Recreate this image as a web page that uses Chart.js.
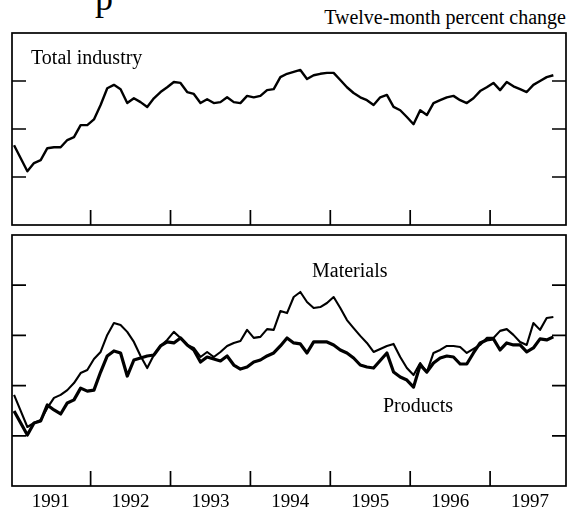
<!DOCTYPE html>
<html>
<head>
<meta charset="utf-8">
<script src="https://cdn.jsdelivr.net/npm/chart.js@4"></script>
<style>
  body { margin: 0; background: #fff; }
  #page { position: relative; width: 568px; height: 516px; overflow: hidden;
          font-family: "Liberation Serif", "Times New Roman", serif; color: #000; }
  canvas { position: absolute; left: 0; }
  .lbl { position: absolute; white-space: nowrap; line-height: 1; font-size: 20px; }
</style>
</head>
<body>
<div id="page">
  <div class="lbl" style="left:95px;top:-20px;font-size:36px">p</div>
  <div class="lbl" style="right:2px;top:7px">Twelve-month percent change</div>
  <canvas id="topChart" width="568" height="230" style="top:0"></canvas>
  <canvas id="bottomChart" width="568" height="286" style="top:230px"></canvas>
  <div class="lbl" style="left:31px;top:47px">Total industry</div>
  <div class="lbl" style="left:312px;top:260px">Materials</div>
  <div class="lbl" style="left:383px;top:395px">Products</div>
</div>
<script>
// monthly twelve-month changes, Jan 1991 - Oct 1997
var years = ["1991", "1992", "1993", "1994", "1995", "1996", "1997"];
var yearBreaks = [1992, 1993, 1994, 1995, 1996, 1997];
var months = Array.from({length: 82}, (_, i) => 1991 + (i + 0.5) / 12);

var totalIndustry = [
  3.32, 2.78, 2.24, 2.58, 2.70, 3.20, 3.24, 3.24, 3.54, 3.66,
  4.16, 4.16, 4.40, 5.00, 5.70, 5.84, 5.66, 5.08, 5.28, 5.12,
  4.92, 5.28, 5.54, 5.74, 5.96, 5.92, 5.54, 5.46, 5.08, 5.24,
  5.08, 5.12, 5.32, 5.12, 5.08, 5.38, 5.32, 5.38, 5.62, 5.66,
  6.16, 6.30, 6.38, 6.46, 6.08, 6.24, 6.30, 6.34, 6.34, 6.04,
  5.74, 5.50, 5.32, 5.20, 5.00, 5.32, 5.42, 4.92, 4.78, 4.50,
  4.20, 4.78, 4.58, 5.08, 5.20, 5.32, 5.38, 5.20, 5.08, 5.28,
  5.58, 5.74, 5.92, 5.62, 5.96, 5.78, 5.66, 5.54, 5.84, 6.00,
  6.16, 6.24
];
var materials = [
  1.63, 0.99, 0.35, 0.51, 0.63, 1.11, 1.51, 1.63, 1.82, 2.10,
  2.50, 2.62, 3.06, 3.34, 4.02, 4.49, 4.41, 4.14, 3.74, 3.18,
  2.70, 3.22, 3.58, 3.82, 4.14, 3.90, 3.62, 3.50, 3.14, 3.34,
  3.14, 3.34, 3.58, 3.70, 3.78, 4.22, 3.90, 3.94, 4.25, 4.22,
  4.97, 4.89, 5.53, 5.73, 5.33, 5.09, 5.13, 5.29, 5.53, 5.09,
  4.61, 4.29, 3.98, 3.70, 3.34, 3.46, 3.58, 3.66, 3.14, 2.70,
  2.42, 2.90, 2.54, 3.30, 3.42, 3.58, 3.58, 3.54, 3.30, 3.46,
  3.62, 3.90, 3.90, 4.18, 4.25, 4.02, 3.74, 3.62, 4.49, 4.22,
  4.69, 4.73
];
var products = [
  0.99, 0.51, 0.03, 0.51, 0.59, 1.23, 1.03, 0.87, 1.31, 1.43,
  1.90, 1.78, 1.82, 2.54, 3.18, 3.38, 3.30, 2.38, 3.02, 3.10,
  3.18, 3.22, 3.58, 3.74, 3.70, 3.90, 3.62, 3.42, 2.94, 3.14,
  3.06, 2.98, 3.18, 2.82, 2.66, 2.74, 2.94, 3.02, 3.18, 3.30,
  3.58, 3.90, 3.70, 3.66, 3.30, 3.74, 3.74, 3.74, 3.62, 3.42,
  3.30, 3.10, 2.82, 2.74, 2.70, 3.00, 3.30, 2.54, 2.34, 2.22,
  1.94, 2.82, 2.54, 2.90, 3.10, 3.18, 3.14, 2.86, 2.86, 3.30,
  3.70, 3.82, 3.86, 3.42, 3.70, 3.62, 3.62, 3.34, 3.50, 3.86,
  3.82, 3.94
];

var topTicks = [2, 4, 6];
var bottomTicks = [0, 2, 4, 6];

// box round the plot + short inward tick marks
const frame = {
  id: "frame",
  afterDatasetsDraw(chart, args, opts) {
    const {ctx, chartArea: a, scales: {x, y}} = chart;
    ctx.save();
    ctx.strokeStyle = "#000";
    ctx.lineWidth = 1.7;
    ctx.strokeRect(a.left, a.top, a.right - a.left, a.bottom - a.top);
    ctx.beginPath();
    opts.yTicks.forEach(v => {
      const py = y.getPixelForValue(v);
      ctx.moveTo(a.left, py); ctx.lineTo(a.left + 14, py);
      ctx.moveTo(a.right - 14, py); ctx.lineTo(a.right, py);
    });
    yearBreaks.forEach(v => {
      const px = x.getPixelForValue(v);
      ctx.moveTo(px, a.bottom); ctx.lineTo(px, a.bottom - 15);
    });
    ctx.stroke();
    ctx.restore();
  }
};

function lineSet(label, values, width) {
  return {
    label: label,
    data: values.map((v, i) => ({x: months[i], y: v})),
    borderColor: "#000",
    borderWidth: width,
    pointRadius: 0,
    tension: 0,
    borderJoinStyle: "round",
    fill: false
  };
}

new Chart("topChart", {
  type: "line",
  data: {datasets: [lineSet("Total industry", totalIndustry, 2.4)]},
  options: {
    responsive: false,
    animation: false,
    events: [],
    layout: {padding: {left: 12, right: 2, top: 33, bottom: 5}},
    plugins: {legend: {display: false}, tooltip: {enabled: false}, frame: {yTicks: topTicks}},
    scales: {
      x: {type: "linear", display: false, min: 1991.016, max: 1997.95},
      y: {display: false, min: 0, max: 8}
    }
  },
  plugins: [frame]
});

new Chart("bottomChart", {
  type: "line",
  data: {datasets: [
    lineSet("Materials", materials, 2.1),
    lineSet("Products", products, 3.2)
  ]},
  options: {
    responsive: false,
    animation: false,
    events: [],
    layout: {padding: {left: 12, right: 2, top: 5, bottom: 0}},
    plugins: {legend: {display: false}, tooltip: {enabled: false}, frame: {yTicks: bottomTicks}},
    scales: {
      x: {
        type: "linear", min: 1991.016, max: 1997.95,
        grid: {display: false, drawTicks: false},
        border: {display: false},
        afterBuildTicks: s => { s.ticks = years.map((t, i) => ({value: 1991.5 + i})); },
        afterFit: s => { s.height = 30; },
        ticks: {
          autoSkip: false, maxRotation: 0, padding: 5, color: "#000",
          font: {family: "Liberation Serif", size: 19},
          callback: (v, i) => years[i]
        }
      },
      y: {display: false, min: -2, max: 8}
    }
  },
  plugins: [frame]
});
</script>
</body>
</html>
